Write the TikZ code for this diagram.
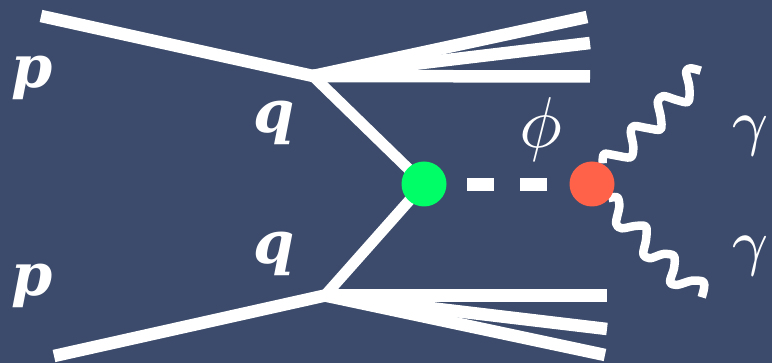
\documentclass[tikz,border=0pt]{standalone}
\usepackage{graphicx}
\usepackage{fontspec}
\newfontfamily\slabfont{DejaVu Serif}
\definecolor{bgblue}{HTML}{3C4B6B}
\definecolor{vgreen}{HTML}{00FF66}
\definecolor{vred}{HTML}{FF6249}
\newcommand{\gamsym}[1]{\scalebox{8.2}[9]{\fontsize{7}{8}\selectfont$#1$}}
\newcommand{\phisym}[1]{\scalebox{7.2}{$#1$}}
\tikzset{
  fermion/.style={draw=white,line width=12.5pt,line cap=butt},
  quark/.style={draw=white,line width=11pt,line cap=butt},
  scalar/.style={draw=white,line width=13pt},
  photon/.style={draw=white,line width=8.5pt,line join=round},
  vertexdot/.style={circle,inner sep=0pt,minimum size=45pt,draw=none},
  lab/.style={text=white,inner sep=0pt},
  partonlab/.style={lab,font=\slabfont\bfseries\itshape\fontsize{59}{60}\selectfont}
}
\begin{document}
\begin{tikzpicture}[x=1pt,y=-1pt]
\useasboundingbox (0,0) rectangle (772,363);
\fill[bgblue] (0,0) rectangle (772,363);
\coordinate (pa) at (41,16);
\coordinate (pb) at (54,356);
\coordinate (v1) at (313,76);
\coordinate (v2) at (325,295.5);
\coordinate (j1) at (587,17);
\coordinate (j2) at (590,43);
\coordinate (j3) at (590,76.5);
\coordinate (j4) at (607,295.5);
\coordinate (j5) at (607,329);
\coordinate (j6) at (605,355);
\coordinate (d1a) at (467,184.5);
\coordinate (d1b) at (493.5,184.5);
\coordinate (d2a) at (520,184.5);
\coordinate (d2b) at (547,184.5);
\coordinate (g1s) at (602.7,163.3);
\coordinate (g1) at (700.7,70.7);
\coordinate (g2s) at (608.3,198.3);
\coordinate (g2) at (701.7,297.3);
\coordinate (greenc) at (424,184);
\coordinate (redc) at (592,184);
\draw[fermion] (pa) -- (v1);
\draw[fermion] (pb) -- (v2);
\draw[fermion] (v1) -- (j1);
\draw[fermion] (v1) -- (j2);
\draw[fermion] (v1) -- (j3);
\draw[fermion] (v2) -- (j4);
\draw[fermion] (v2) -- (j5);
\draw[fermion] (v2) -- (j6);
\draw[quark] (v1) -- (greenc);
\draw[quark] (v2) -- (greenc);
\draw[scalar] (d1a) -- (d1b);
\draw[scalar] (d2a) -- (d2b);
\draw[photon] plot[smooth,tension=.5] coordinates {(g1s) (604,154) (615,155.3) (630.7,157.3) (633.3,146.7) (630.7,131.7) (634,126) (648.3,128.3) (660.7,129.3) (660.7,116.7) (657.7,101.7) (663.3,96) (676.7,100) (688.3,101.7) (689.3,86.7) (686,71.7) (690.7,68.3) (g1)};
\draw[photon] plot[smooth,tension=.5] coordinates {(g2s) (617.3,197.3) (619.3,206.7) (616,223.3) (621.7,228.3) (635,226) (646,226.7) (646,240) (643.3,254) (650,258.3) (663.3,254) (674,256) (674,268.3) (670,281.7) (676.7,285) (691.7,280.7) (703.3,281.7) (704,288.3) (g2)};
\node[vertexdot,fill=vgreen] (green) at (greenc) {};
\node[vertexdot,fill=vred] (red) at (redc) {};
\node[partonlab] (p1) at (32.5,77.5) {p};
\node[partonlab] (p2) at (32.5,285.5) {p};
\node[partonlab] (q1) at (274,122.5) {q};
\node[partonlab] (q2) at (274,254) {q};
\node[lab] (phi) at (541,130) {\phisym{\phi}};
\node[lab] (gam1) at (750.5,136) {\gamsym{\gamma}};
\node[lab] (gam2) at (750.5,256) {\gamsym{\gamma}};
\end{tikzpicture}
\end{document}
